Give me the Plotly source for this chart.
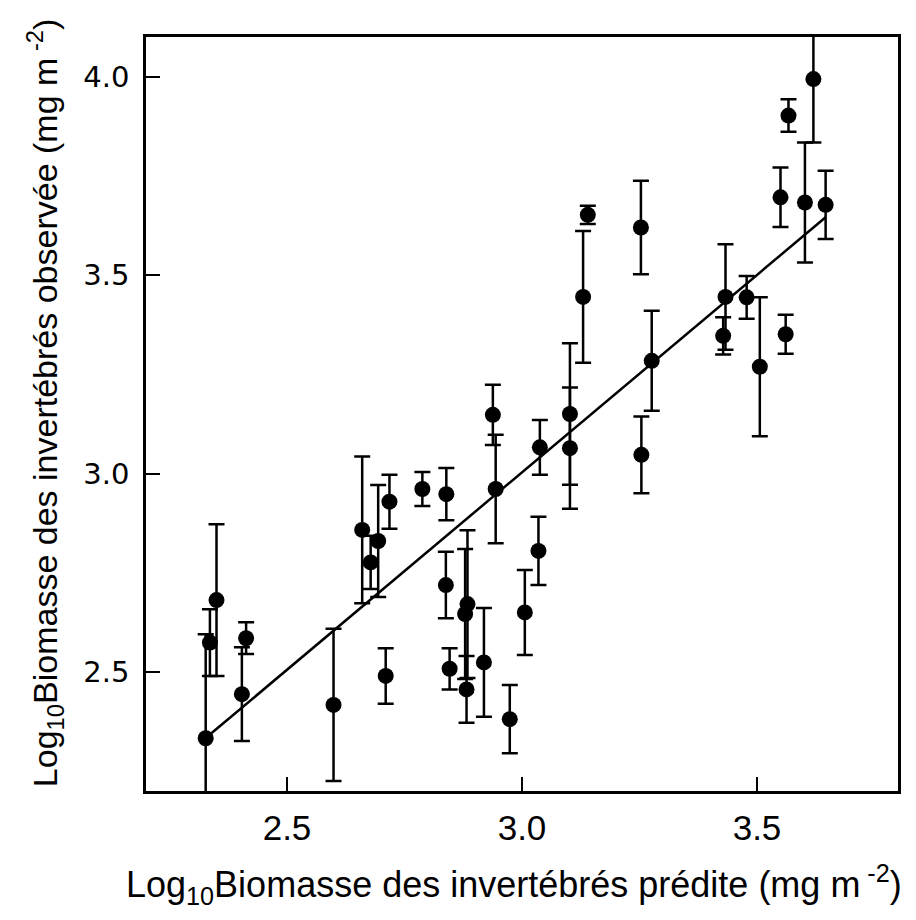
import plotly.graph_objects as go

# Predicted (x) and observed (y) log10 invertebrate biomass, with error (± half-range)
pred = [2.327, 2.336, 2.350, 2.413, 2.404, 2.599, 2.660, 2.678, 2.694, 2.718,
        2.788, 2.839, 2.838, 2.710, 2.846, 2.884, 2.879, 2.882, 2.919, 2.938,
        2.944, 2.974, 3.006, 3.035, 3.038, 3.102, 3.102, 3.130, 3.140, 3.253,
        3.254, 3.276, 3.433, 3.428, 3.478, 3.506, 3.550, 3.561, 3.567, 3.602,
        3.620, 3.646]
obs = [2.333, 2.574, 2.681, 2.585, 2.444, 2.417, 2.858, 2.776, 2.830, 2.929,
       2.961, 2.948, 2.719, 2.490, 2.508, 2.671, 2.646, 2.456, 2.524, 3.148,
       2.961, 2.381, 2.650, 2.805, 3.066, 3.150, 3.064, 3.445, 3.652, 3.620,
       3.047, 3.284, 3.445, 3.347, 3.444, 3.269, 3.696, 3.351, 3.902, 3.683,
       3.994, 3.677]
err = [0.262, 0.084, 0.191, 0.040, 0.118, 0.192, 0.185, 0.067, 0.141, 0.068,
       0.043, 0.066, 0.084, 0.070, 0.052, 0.186, 0.164, 0.084, 0.137, 0.076,
       0.137, 0.086, 0.107, 0.086, 0.069, 0.178, 0.153, 0.166, 0.023, 0.118,
       0.097, 0.126, 0.133, 0.047, 0.054, 0.175, 0.075, 0.049, 0.041, 0.151,
       0.160, 0.086]

# Regression line parameters
fit_slope = 0.995
fit_intercept = 0.018

x_ticks = [2.5, 3.0, 3.5]
x_ticktext = ["2.5", "3.0", "3.5"]
y_ticks = [2.5, 3.0, 3.5, 4.0]
y_ticktext = ["2.5", "3.0", "3.5", "4.0"]

x_title = "Log<sub>10</sub>Biomasse des invertébrés prédite (mg m<sup> -2</sup>)"
y_title = "Log<sub>10</sub>Biomasse des invertébrés observée (mg m<sup> -2</sup>)"

line_x = [min(pred), max(pred)]
line_y = [fit_intercept + fit_slope * v for v in line_x]

fig = go.Figure()
fig.add_trace(go.Scatter(x=line_x, y=line_y, mode="lines",
                         line=dict(color="black", width=2.5), showlegend=False))
fig.add_trace(go.Scatter(
    x=pred, y=obs, mode="markers",
    marker=dict(color="black", size=16),
    error_y=dict(type="data", array=err, visible=True, color="black",
                 thickness=2.5, width=8),
    showlegend=False))

axis_common = dict(showline=True, linecolor="black", linewidth=2.5, mirror=True,
                   ticks="inside", ticklen=14, tickwidth=2, tickcolor="black",
                   showgrid=False, zeroline=False)

fig.update_xaxes(range=[2.2, 3.8], tickvals=x_ticks, ticktext=x_ticktext,
                 tickfont=dict(family="Liberation Sans, Arial", size=35, color="black"),
                 ticklabelstandoff=4, **axis_common)
fig.update_yaxes(range=[2.2, 4.1], tickvals=y_ticks, ticktext=y_ticktext,
                 tickfont=dict(family="DejaVu Sans", size=29, color="black"),
                 ticklabelstandoff=8, **axis_common)

fig.add_annotation(text=x_title, xref="paper", yref="paper", x=0.49, y=-0.124,
                   xanchor="center", yanchor="middle", showarrow=False,
                   font=dict(family="Liberation Sans, Arial", size=36, color="black"))
fig.add_annotation(text=y_title, xref="paper", yref="paper", x=-0.135, y=0.515,
                   xanchor="center", yanchor="middle", showarrow=False, textangle=-90,
                   font=dict(family="Liberation Sans, Arial", size=34, color="black"))

fig.update_layout(width=916, height=920, plot_bgcolor="white", paper_bgcolor="white",
                  margin=dict(l=146, r=18, t=37, b=129))

fig.write_html("out.html")
